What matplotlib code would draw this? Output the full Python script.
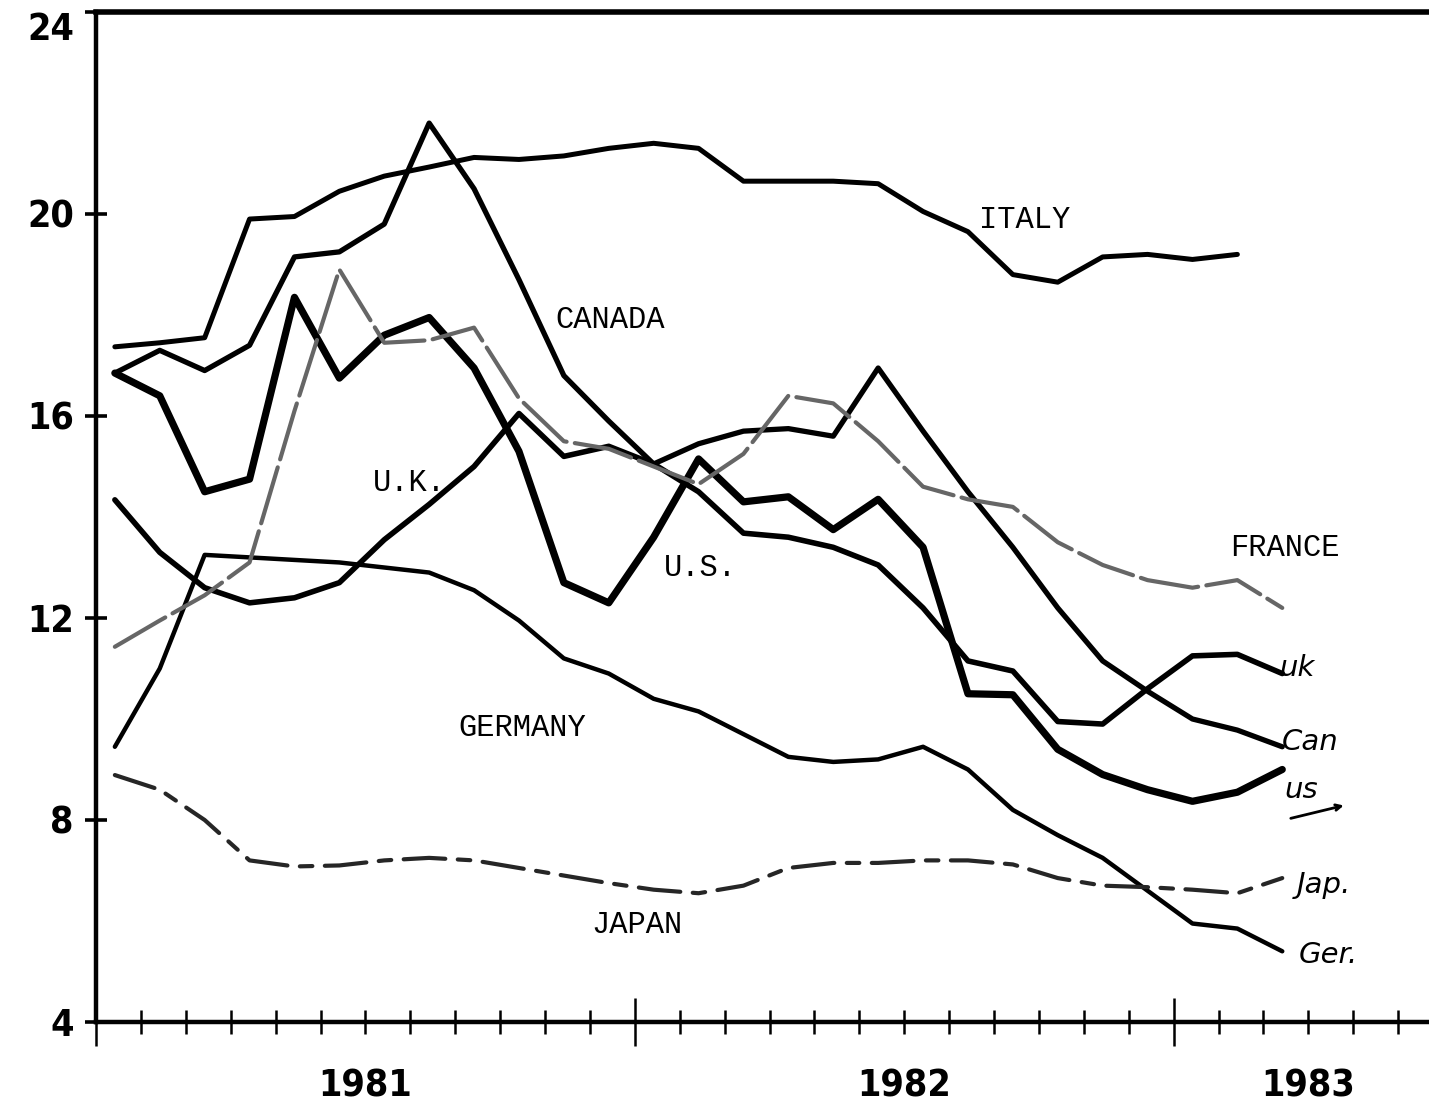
import matplotlib
matplotlib.use("Agg")
import matplotlib.pyplot as plt
from matplotlib.ticker import MultipleLocator, FixedLocator

# months since Jan 1981 (mid-month positions)
months = [0.42 + i for i in range(27)]

italy = [17.37, 17.45, 17.55, 19.9, 19.95, 20.45, 20.75, 20.93, 21.12, 21.08, 21.15, 21.3, 21.4,
         21.3, 20.65, 20.65, 20.65, 20.6, 20.05, 19.65, 18.8, 18.65, 19.15, 19.2, 19.1, 19.2]
canada = [16.85, 17.3, 16.9, 17.4, 19.15, 19.25, 19.8, 21.8, 20.5, 18.7, 16.8, 15.9, 15.05,
          15.45, 15.7, 15.75, 15.6, 16.95, 15.7, 14.5, 13.4, 12.2, 11.15, 10.55, 10.0, 9.78, 9.45]
us = [16.85, 16.4, 14.5, 14.75, 18.35, 16.75, 17.6, 17.95, 16.95, 15.3, 12.7, 12.3, 13.6,
      15.15, 14.3, 14.4, 13.75, 14.35, 13.4, 10.5, 10.48, 9.4, 8.9, 8.6, 8.37, 8.55, 9.0]
uk = [14.34, 13.3, 12.6, 12.3, 12.4, 12.7, 13.55, 14.25, 15.0, 16.05, 15.2, 15.4, 15.05,
      14.5, 13.68, 13.6, 13.4, 13.05, 12.2, 11.15, 10.95, 9.95, 9.9, 10.6, 11.25, 11.28, 10.9]
france = [11.43, 11.95, 12.45, 13.1, 16.1, 18.9, 17.45, 17.5, 17.75, 16.35, 15.5, 15.35, 15.0,
          14.65, 15.25, 16.4, 16.25, 15.5, 14.6, 14.35, 14.2, 13.5, 13.05, 12.75, 12.6, 12.75, 12.2]
germany = [9.45, 11.0, 13.25, 13.2, 13.15, 13.1, 13.0, 12.9, 12.55, 11.95, 11.2, 10.9, 10.4,
           10.15, 9.7, 9.25, 9.15, 9.2, 9.45, 9.0, 8.2, 7.7, 7.25, 6.6, 5.95, 5.85, 5.4]
japan = [8.89, 8.6, 8.0, 7.2, 7.08, 7.1, 7.2, 7.25, 7.2, 7.05, 6.9, 6.75, 6.62, 6.55, 6.7,
         7.05, 7.15, 7.15, 7.2, 7.2, 7.12, 6.85, 6.7, 6.67, 6.62, 6.55, 6.85]

years = ["1981", "1982", "1983"]
year_pos = [6, 18, 27]
yticks = [4, 8, 12, 16, 20, 24]

W, H = 1429, 1106
fig = plt.figure(figsize=(W / 100, H / 100), dpi=100)
ax = fig.add_axes([96 / W, 1 - 1022 / H, 1 - 96 / W, (1022 - 12) / H])

mono = ['Liberation Mono', 'DejaVu Sans Mono']
hand = ['DejaVu Sans']
num = dict(family='DejaVu Sans', fontweight='bold', fontstretch='condensed', fontsize=27)

kw = dict(color='black', solid_capstyle='round', solid_joinstyle='round')
ax.plot(months[:len(italy)], italy, lw=3.6, **kw)
ax.plot(months, canada, lw=3.8, **kw)
ax.plot(months, us, lw=5.2, **kw)
ax.plot(months, uk, lw=4.0, **kw)
ax.plot(months, germany, lw=3.2, **kw)
ax.plot(months, france, lw=3.0, color='0.4', linestyle=(0, (14, 2)),
        dash_capstyle='round')
ax.plot(months, japan, lw=3.0, color='0.15', linestyle=(0, (10, 3, 3, 3)),
        dash_capstyle='round')

# series labels (typewriter)
lab = dict(fontsize=22, family=mono, ha='center', va='center')
ax.text(20.69, 19.88, "ITALY", **lab)
ax.text(11.45, 17.9, "CANADA", **lab)
ax.text(6.99, 14.67, "U.K.", **lab)
ax.text(13.45, 12.99, "U.S.", **lab)
ax.text(26.48, 13.39, "FRANCE", **lab)
ax.text(9.49, 9.82, "GERMANY", **lab)
ax.text(12.05, 5.92, "JAPAN", **lab)

# hand-written end labels
hl = dict(fontsize=21, family=hand, style='italic', ha='center', va='center')
ax.text(26.75, 11.0, "uk", **hl)
ax.text(27.05, 9.54, "Can", **hl)
ax.text(26.85, 8.6, "us", **hl)
ax.text(27.35, 6.71, "Jap.", **hl)
ax.text(27.45, 5.33, "Ger.", **hl)
ax.annotate("", xy=(27.85, 8.3), xytext=(26.55, 8.02),
            arrowprops=dict(arrowstyle='->', lw=2, color='black'))

ax.set_xlim(0, (W - 96) / 44.9)
ax.set_ylim(4, 24)

for s in ['left', 'bottom']:
    ax.spines[s].set_linewidth(3.2)
ax.spines['top'].set_linewidth(4.0)
ax.spines['right'].set_visible(False)

ax.xaxis.set_major_locator(FixedLocator([0, 12, 24]))
ax.xaxis.set_minor_locator(MultipleLocator(1))
ax.tick_params(axis='x', which='major', direction='inout', length=34, width=1.8,
               labelbottom=False)
ax.tick_params(axis='x', which='minor', direction='inout', length=17, width=1.8)
ax.set_yticks(yticks)
ax.set_yticklabels([str(v) for v in yticks], **num)
ax.tick_params(axis='y', direction='inout', length=16, width=2.6, pad=8)
ax.get_yticklabels()[-1].set_va('top')

for lbl, xp in zip(years, year_pos):
    ax.text(xp, -0.064, lbl, transform=ax.get_xaxis_transform(), ha='center', va='center',
            **num)

fig.savefig("out.png", dpi=100)
